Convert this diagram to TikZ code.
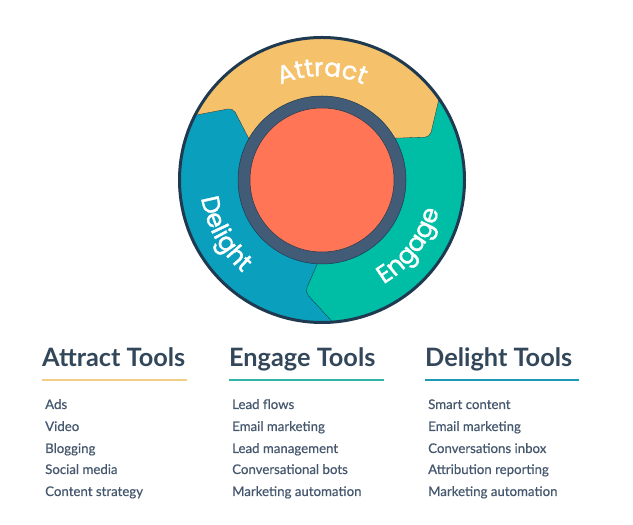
\documentclass[tikz,border=0pt]{standalone}
\usepackage{fontspec}
\setmainfont{Lato}
\newfontfamily\arcfamily[FakeBold=1.5]{Poppins}
\newfontfamily\itemfamily[FakeBold=0.5]{Lato}
\usepackage{tikz}
\usetikzlibrary{decorations.text,calc}
\definecolor{ringdark}{HTML}{1F3A50}
\definecolor{ringblue}{HTML}{425B76}
\definecolor{hubred}{HTML}{FF7555}
\definecolor{attractyellow}{HTML}{F5C26B}
\definecolor{engageteal}{HTML}{00BDA5}
\definecolor{delightblue}{HTML}{0B9FBE}
\definecolor{titleink}{HTML}{33475B}
\definecolor{itemink}{HTML}{46586E}
\definecolor{lineyellow}{HTML}{F0CE85}
\definecolor{lineteal}{HTML}{2FB5A8}
\definecolor{lineblue}{HTML}{1D9AB5}
\newcommand{\arcfont}{\arcfamily\fontsize{25}{25}\selectfont}
\tikzset{
  toolstitle/.style={anchor=base west, inner sep=0pt, text=titleink, font=\bfseries\fontsize{25.4}{28}\selectfont},
  toolsitem/.style={anchor=base west, inner sep=0pt, text=itemink, font=\itemfamily\fontsize{13.3}{15}\selectfont},
  toolsline/.style={line width=2bp},
  arcedge/.style={rounded corners=5, draw=ringdark!70!black, line width=0.3bp},
}
\begin{document}
\begin{tikzpicture}[x=1bp,y=1bp]
\useasboundingbox (0,0) rectangle (633,525);
%
\coordinate (hub) at (322,345);
\begin{scope}
\clip (hub) circle (143);
\fill[delightblue] (hub) circle (143);
\filldraw[arcedge, fill=engageteal] (330,290)--(380,400)--(440,500)--(520,500)--(520,150)--(350,184)--(305,233)--cycle;
\filldraw[arcedge, fill=attractyellow] (170,405)--(233,417)--(263,359)--(370,386)--(430,388)--(446,456)--(446,500)--(170,500)--cycle;
\end{scope}
%
\draw[ringdark, line width=3bp] (hub) circle (142.5);
\filldraw[fill=ringblue, draw=ringdark, line width=0.5bp] (hub) circle (84);
\filldraw[fill=hubred, draw=ringdark, line width=0.5bp] (hub) circle (72);
%
\path[decorate, decoration={text along path, text color=white, text align=center, text={|\arcfont|Attract}}]
  ($(hub)+(150:104)$) arc (150:30:104);
\path[decorate, decoration={text along path, text color=white, text align=center, text={|\arcfont|Delight}}]
  ($(hub)+(150:122)$) arc (150:268:122);
\path[decorate, decoration={text along path, text color=white, text align=center, text={|\arcfont|Engage}}]
  ($(hub)+(264:121)$) arc (264:382:121);
%
\node[toolstitle] (attracttitle) at (42,158) {Attract Tools};
\node[toolstitle] (engagetitle) at (229,158) {Engage Tools};
\node[toolstitle] (delighttitle) at (425,158) {Delight Tools};
%
\coordinate (attractstart) at (42,145);
\coordinate (attractend) at (187,145);
\coordinate (engagestart) at (229,145);
\coordinate (engageend) at (384,145);
\coordinate (delightstart) at (425,145);
\coordinate (delightend) at (579,145);
\draw[toolsline, lineyellow] (attractstart)--(attractend);
\draw[toolsline, lineteal] (engagestart)--(engageend);
\draw[toolsline, lineblue] (delightstart)--(delightend);
%
\node[toolsitem] (attractone) at (45,116) {Ads};
\node[toolsitem] (attracttwo) at (45,94) {Video};
\node[toolsitem] (attractthree) at (45,72) {Blogging};
\node[toolsitem] (attractfour) at (45,51) {Social media};
\node[toolsitem] (attractfive) at (45,29) {Content strategy};
%
\node[toolsitem] (engageone) at (232,116) {Lead flows};
\node[toolsitem] (engagetwo) at (232,94) {Email marketing};
\node[toolsitem] (engagethree) at (232,72) {Lead management};
\node[toolsitem] (engagefour) at (232,51) {Conversational bots};
\node[toolsitem] (engagefive) at (232,29) {Marketing automation};
%
\node[toolsitem] (delightone) at (428,116) {Smart content};
\node[toolsitem] (delighttwo) at (428,94) {Email marketing};
\node[toolsitem] (delightthree) at (428,72) {Conversations inbox};
\node[toolsitem] (delightfour) at (428,51) {Attribution reporting};
\node[toolsitem] (delightfive) at (428,29) {Marketing automation};
\end{tikzpicture}
\end{document}
